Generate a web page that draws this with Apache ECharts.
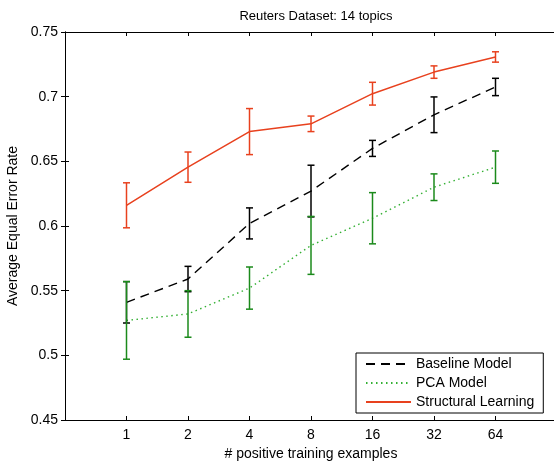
<!DOCTYPE html>
<html>
<head>
<meta charset="UTF-8">
<title>Reuters Dataset: 14 topics</title>
<script src="https://cdn.jsdelivr.net/npm/echarts@6/dist/echarts.min.js"></script>
<style>
  html, body { margin: 0; padding: 0; background: #fff; }
  #main { width: 554px; height: 461px; }
</style>
</head>
<body>
<div id="main"></div>
<script>
// x positions 1..7 stand for these training set sizes
var tickLabels = ['1', '2', '4', '8', '16', '32', '64'];

// mean equal error rate and error bar half-height, per model
var baselineMean = [0.541, 0.559, 0.602, 0.627, 0.660, 0.686, 0.7075];
var baselineErr  = [0.016, 0.0098, 0.012, 0.020, 0.0062, 0.0138, 0.0067];
var pcaMean = [0.527, 0.532, 0.552, 0.585, 0.606, 0.630, 0.6455];
var pcaErr  = [0.030, 0.018, 0.0163, 0.0224, 0.0198, 0.0103, 0.0125];
var structMean = [0.616, 0.6455, 0.673, 0.679, 0.7023, 0.719, 0.7307];
var structErr  = [0.0174, 0.0117, 0.0178, 0.006, 0.0088, 0.0048, 0.004];

var FONT = '"Liberation Sans", Arial, Helvetica, sans-serif';

function linePts(mean) {
  return mean.map(function (v, i) { return [i + 1, v]; });
}
function barPts(mean, err) {
  return mean.map(function (v, i) { return [i + 1, v - err[i], v + err[i]]; });
}

// vertical error bar with small caps
function renderBar(params, api) {
  var x = api.value(0);
  var lo = api.coord([x, api.value(1)]);
  var hi = api.coord([x, api.value(2)]);
  var w = 3.5;
  var style = { stroke: api.visual('color'), lineWidth: 1.5 };
  return {
    type: 'group',
    children: [
      { type: 'line', shape: { x1: lo[0], y1: lo[1], x2: hi[0], y2: hi[1] }, style: style },
      { type: 'line', shape: { x1: lo[0] - w, y1: lo[1], x2: lo[0] + w, y2: lo[1] }, style: style },
      { type: 'line', shape: { x1: hi[0] - w, y1: hi[1], x2: hi[0] + w, y2: hi[1] }, style: style }
    ]
  };
}

var chart = echarts.init(document.getElementById('main'));
chart.setOption({
  animation: false,
  textStyle: { fontFamily: FONT },
  title: {
    text: 'Reuters Dataset: 14 topics',
    left: 311,
    textAlign: 'center',
    top: 5,
    textStyle: { fontFamily: FONT, fontSize: 13, fontWeight: 'normal', color: '#000' }
  },
  legend: {
    orient: 'vertical',
    left: 356,
    top: 353,
    data: ['Baseline Model', 'PCA Model', 'Structural Learning'],
    itemWidth: 45,
    itemHeight: 14,
    itemGap: 5,
    padding: [4, 9, 4, 9],
    backgroundColor: '#fff',
    borderColor: '#000',
    borderWidth: 1,
    borderRadius: 0,
    // hide the marker dot, keep only the line sample
    itemStyle: { opacity: 0 },
    textStyle: { fontFamily: FONT, fontSize: 14, color: '#000' }
  },
  grid: { left: 65, top: 32, width: 492, height: 388, outerBoundsMode: 'none', containLabel: false },
  xAxis: [{
    type: 'value',
    min: 0,
    max: 8,
    interval: 1,
    name: '# positive training examples',
    nameLocation: 'middle',
    nameGap: 24,
    nameTextStyle: { fontFamily: FONT, fontSize: 14, color: '#000' },
    axisLine: { lineStyle: { color: '#000', width: 1 } },
    axisTick: { inside: true, length: 4, lineStyle: { color: '#000' } },
    axisLabel: {
      fontFamily: FONT, fontSize: 14, color: '#000', margin: 8,
      formatter: function (v) { return tickLabels[v - 1] || ''; }
    },
    splitLine: { show: false }
  }, {
    type: 'value',
    position: 'top',
    min: 0,
    max: 8,
    interval: 1,
    axisLine: { lineStyle: { color: '#000', width: 1 } },
    axisTick: { inside: true, length: 4, lineStyle: { color: '#000' } },
    axisLabel: { show: false },
    splitLine: { show: false }
  }],
  yAxis: [{
    type: 'value',
    min: 0.45,
    max: 0.75,
    interval: 0.05,
    name: 'Average Equal Error Rate',
    nameLocation: 'middle',
    nameGap: 41,
    nameTextStyle: { fontFamily: FONT, fontSize: 14, color: '#000' },
    axisLine: { show: true, lineStyle: { color: '#000', width: 1 } },
    axisTick: { show: true, inside: true, length: 4, lineStyle: { color: '#000' } },
    axisLabel: { fontFamily: FONT, fontSize: 14, color: '#000', margin: 7 },
    splitLine: { show: false }
  }, {
    type: 'value',
    position: 'right',
    min: 0.45,
    max: 0.75,
    interval: 0.05,
    axisLine: { show: true, lineStyle: { color: '#000', width: 1 } },
    axisTick: { show: true, inside: true, length: 4, lineStyle: { color: '#000' } },
    axisLabel: { show: false },
    splitLine: { show: false }
  }],
  series: [{
    name: 'Baseline Model',
    type: 'line',
    symbol: 'none',
    color: '#000',
    lineStyle: { color: '#000', width: 1.4, type: [9, 6] },
    data: linePts(baselineMean),
    z: 3
  }, {
    name: 'PCA Model',
    type: 'line',
    symbol: 'none',
    color: '#33b033',
    lineStyle: { color: '#33b033', width: 1.4, type: [1.5, 3.5] },
    data: linePts(pcaMean),
    z: 3
  }, {
    name: 'Structural Learning',
    type: 'line',
    symbol: 'none',
    color: '#e8411e',
    lineStyle: { color: '#e8411e', width: 1.5 },
    data: linePts(structMean),
    z: 3
  }, {
    name: 'baselineBars',
    type: 'custom',
    renderItem: renderBar,
    itemStyle: { color: '#000' },
    encode: { x: 0, y: [1, 2] },
    data: barPts(baselineMean, baselineErr),
    z: 4
  }, {
    name: 'pcaBars',
    type: 'custom',
    renderItem: renderBar,
    itemStyle: { color: '#1b8a1b' },
    encode: { x: 0, y: [1, 2] },
    data: barPts(pcaMean, pcaErr),
    z: 4
  }, {
    name: 'structBars',
    type: 'custom',
    renderItem: renderBar,
    itemStyle: { color: '#e8411e' },
    encode: { x: 0, y: [1, 2] },
    data: barPts(structMean, structErr),
    z: 4
  }]
});
</script>
</body>
</html>
